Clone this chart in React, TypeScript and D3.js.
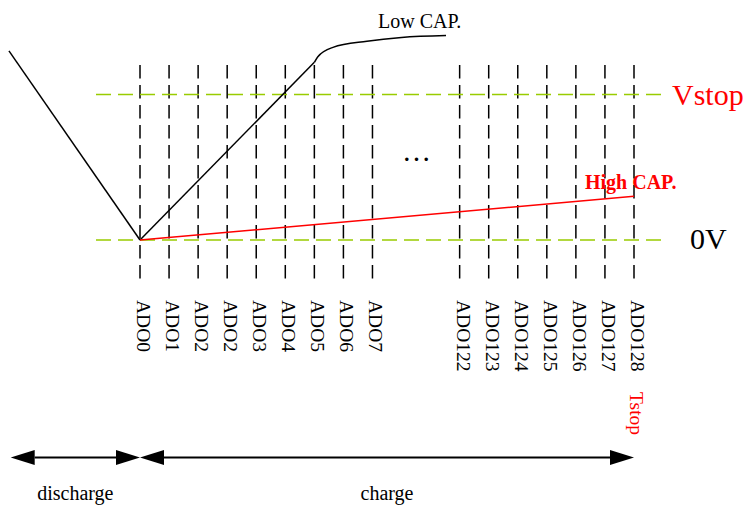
import { useEffect, useRef } from 'react';
import * as d3 from 'd3';

// column slots (x index) and their labels
const slots = [0, 1, 2, 3, 4, 5, 6, 7, 8, 11, 12, 13, 14, 15, 16, 17];
const slotLabels = ['ADO0', 'ADO1', 'ADO2', 'ADO2', 'ADO3', 'ADO4', 'ADO5', 'ADO6', 'ADO7',
  'ADO122', 'ADO123', 'ADO124', 'ADO125', 'ADO126', 'ADO127', 'ADO128'];

// voltage levels (0V and Vstop)
const levels = [0, 1];
const levelLabels = ['0V', 'Vstop'];

// curves: [slot, voltage]
const dischargeLine: [number, number][] = [[-4.51, 1.30], [0, 0]];
const lowCapLine: [number, number][] = [[0, 0], [6, 1.221]];
const lowCapCurve: [number, number][] = [[6, 1.221], [6.12, 1.26], [6.64, 1.324], [7.81, 1.366], [9, 1.392], [10.53, 1.405]];
const highCapLine: [number, number][] = [[0, 0], [17, 0.3]];

// phase arrows: [start slot, end slot]
const phases = [[-4.45, 0], [0, 17]];
const phaseLabels = ['discharge', 'charge'];

export default function App() {
  const svgRef = useRef<SVGSVGElement>(null);

  useEffect(() => {
    if (!svgRef.current) return;
    const width = 747;
    const height = 506;
    const font = '"Liberation Serif", "Times New Roman", serif';

    d3.select(svgRef.current).selectAll('*').remove();
    const svg = d3.select(svgRef.current)
      .attr('width', width)
      .attr('height', height)
      .style('font-family', font);

    const x = d3.scaleLinear().domain([0, 17]).range([140, 634]);
    const y = d3.scaleLinear().domain([0, 1]).range([240, 94.5]);

    // vertical dashed column lines
    svg.selectAll('.col')
      .data(slots)
      .join('line')
      .attr('class', 'col')
      .attr('x1', d => x(d))
      .attr('x2', d => x(d))
      .attr('y1', 65)
      .attr('y2', 279)
      .attr('stroke', '#000')
      .attr('stroke-width', 1.5)
      .attr('stroke-dasharray', '13.5,6.5');

    // green level lines
    svg.selectAll('.level')
      .data(levels)
      .join('line')
      .attr('class', 'level')
      .attr('x1', 96)
      .attr('x2', 667)
      .attr('y1', d => y(d))
      .attr('y2', d => y(d))
      .attr('stroke', '#99cc00')
      .attr('stroke-width', 1.5)
      .attr('stroke-dasharray', '15,7');

    const line = d3.line<[number, number]>().x(d => x(d[0])).y(d => y(d[1]));
    const curve = d3.line<[number, number]>().x(d => x(d[0])).y(d => y(d[1])).curve(d3.curveMonotoneX);

    svg.append('path').attr('d', line(dischargeLine)).attr('fill', 'none').attr('stroke', '#000').attr('stroke-width', 1.5);
    svg.append('path').attr('d', line(lowCapLine)).attr('fill', 'none').attr('stroke', '#000').attr('stroke-width', 1.5);
    svg.append('path').attr('d', curve(lowCapCurve)).attr('fill', 'none').attr('stroke', '#000').attr('stroke-width', 1.5);
    svg.append('path').attr('d', line(highCapLine)).attr('fill', 'none').attr('stroke', '#ff0000').attr('stroke-width', 1.5);

    svg.append('text')
      .attr('x', 378).attr('y', 28)
      .style('font-size', '20px')
      .text('Low CAP.');

    svg.append('text')
      .attr('x', 585).attr('y', 189)
      .style('font-size', '20px')
      .style('font-weight', 'bold')
      .attr('fill', '#ff0000')
      .text('High CAP.');

    svg.append('text')
      .attr('x', 402).attr('y', 161)
      .style('font-size', '29px')
      .text('…');

    // level labels
    svg.append('text')
      .attr('x', 672).attr('y', y(1) + 10)
      .style('font-size', '30px')
      .attr('fill', '#ff0000')
      .text(levelLabels[1]);
    svg.append('text')
      .attr('x', 690).attr('y', y(0) + 9)
      .style('font-size', '30px')
      .text(levelLabels[0]);

    // rotated column labels
    svg.selectAll('.lbl')
      .data(slots)
      .join('text')
      .attr('class', 'lbl')
      .attr('transform', d => `translate(${x(d) - 3},300) rotate(90)`)
      .style('font-size', '19.5px')
      .text((d, i) => slotLabels[i]);

    svg.append('text')
      .attr('transform', `translate(${x(17) - 4},392) rotate(90)`)
      .style('font-size', '19.5px')
      .attr('fill', '#ff0000')
      .text('Tstop');

    // phase arrows
    const ay = 457.5;
    const head = 24;
    const hw = 7.5;
    phases.forEach(([s, e], i) => {
      const x0 = x(s);
      const x1 = x(e);
      svg.append('line')
        .attr('x1', x0 + head).attr('x2', x1 - head)
        .attr('y1', ay).attr('y2', ay)
        .attr('stroke', '#000').attr('stroke-width', 2);
      svg.append('path')
        .attr('d', `M${x0},${ay} L${x0 + head},${ay - hw} L${x0 + head},${ay + hw} Z`)
        .attr('fill', '#000');
      svg.append('path')
        .attr('d', `M${x1},${ay} L${x1 - head},${ay - hw} L${x1 - head},${ay + hw} Z`)
        .attr('fill', '#000');
      svg.append('text')
        .attr('x', (x0 + x1) / 2 + (i === 0 ? 0 : 0))
        .attr('y', 500)
        .attr('text-anchor', 'middle')
        .style('font-size', '20px')
        .text(phaseLabels[i]);
    });
  }, []);

  return (
    <div style={{ position: 'absolute', left: 0, top: 0 }}>
      <svg ref={svgRef}></svg>
    </div>
  );
}
